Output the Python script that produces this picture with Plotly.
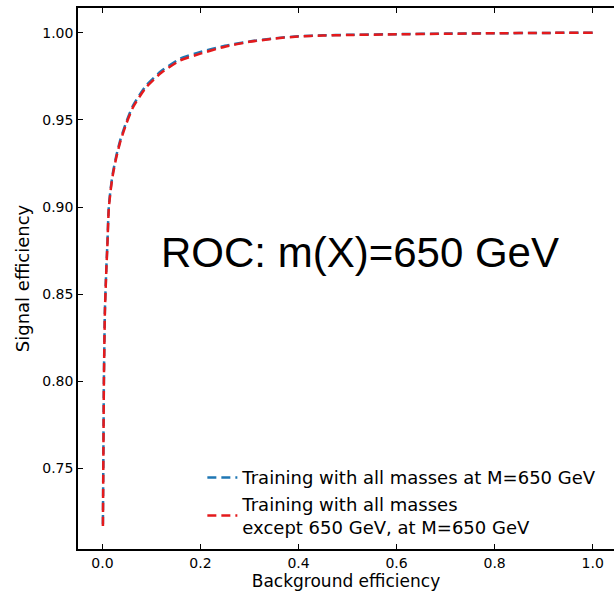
import plotly.graph_objects as go

# Background efficiency (x) and signal efficiency (y)
bkg_all = [0.001, 0.002, 0.003, 0.005, 0.008, 0.010, 0.013, 0.017, 0.021, 0.028, 0.037,
           0.049, 0.062, 0.075, 0.09, 0.12, 0.158, 0.2, 0.25, 0.3, 0.35, 0.4, 0.45,
           0.5, 0.6, 0.7, 0.8, 0.9, 1.0]
sig_all = [0.718, 0.76, 0.80, 0.84, 0.865, 0.878, 0.90, 0.911, 0.919, 0.929, 0.939,
           0.949, 0.958, 0.964, 0.970, 0.978, 0.985, 0.989, 0.9925, 0.995, 0.9968, 0.998, 0.9985,
           0.9988, 0.9992, 0.9995, 0.9997, 0.9999, 1.0]

bkg_except = [0.001, 0.002, 0.003, 0.005, 0.008, 0.010, 0.013, 0.017, 0.021, 0.028, 0.037,
              0.049, 0.062, 0.075, 0.09, 0.12, 0.158, 0.2, 0.25, 0.3, 0.35, 0.4, 0.45,
              0.5, 0.6, 0.7, 0.8, 0.9, 1.0]
sig_except = [0.717, 0.759, 0.799, 0.839, 0.864, 0.877, 0.899, 0.910, 0.918, 0.928, 0.938,
              0.948, 0.957, 0.963, 0.969, 0.977, 0.984, 0.988, 0.992, 0.9948, 0.9966, 0.9979, 0.9984,
              0.9987, 0.9991, 0.9994, 0.9997, 0.9999, 1.0]

x_ticks = [0.0, 0.2, 0.4, 0.6, 0.8, 1.0]
y_ticks = [0.75, 0.80, 0.85, 0.90, 0.95, 1.00]

label_all = "Training with all masses at M=650 GeV"
label_except = "Training with all masses<br>except 650 GeV, at M=650 GeV"
annotation_text = "ROC: m(X)=650 GeV"

fig = go.Figure()
fig.add_trace(go.Scatter(x=bkg_all, y=sig_all, mode="lines", name=label_all,
                         line=dict(color="#1f77b4", width=2.5, dash="9px,5px", shape="spline", smoothing=0.6)))
fig.add_trace(go.Scatter(x=bkg_except, y=sig_except, mode="lines", name=label_except,
                         line=dict(color="#e41a1c", width=2.5, dash="9px,5px", shape="spline", smoothing=0.6)))

fig.add_annotation(x=0.525, y=0.874, xref="x", yref="y", text=annotation_text,
                   showarrow=False, font=dict(family="Liberation Sans, Arial", size=42, color="black"),
                   xanchor="center", yanchor="middle")

axis_common = dict(showline=True, linecolor="black", linewidth=1.5, ticks="inside", ticklen=5,
                   tickcolor="black", tickwidth=1, showgrid=False, zeroline=False,
                   tickfont=dict(family="DejaVu Sans", size=14, color="black"))

fig.update_xaxes(range=[-0.0498, 1.0435], tickvals=x_ticks, ticktext=[f"{v:.1f}" for v in x_ticks],
                 mirror="allticks", title=dict(text="Background efficiency",
                 font=dict(family="DejaVu Sans", size=17, color="black"), standoff=7), **axis_common)
fig.update_yaxes(range=[0.7038, 1.0142], tickvals=y_ticks, ticktext=[f"{v:.2f}" for v in y_ticks],
                 title=dict(text="Signal efficiency",
                 font=dict(family="DejaVu Sans", size=18, color="black"), standoff=8), **axis_common)

fig.update_layout(width=614, height=591, margin=dict(l=78, r=0, t=8, b=42),
                  plot_bgcolor="white", paper_bgcolor="white",
                  legend=dict(x=0.232, y=0.166, xanchor="left", yanchor="top",
                              bgcolor="rgba(0,0,0,0)", font=dict(family="DejaVu Sans", size=18, color="black"),
                              tracegroupgap=0))

fig.write_html("out.html")
